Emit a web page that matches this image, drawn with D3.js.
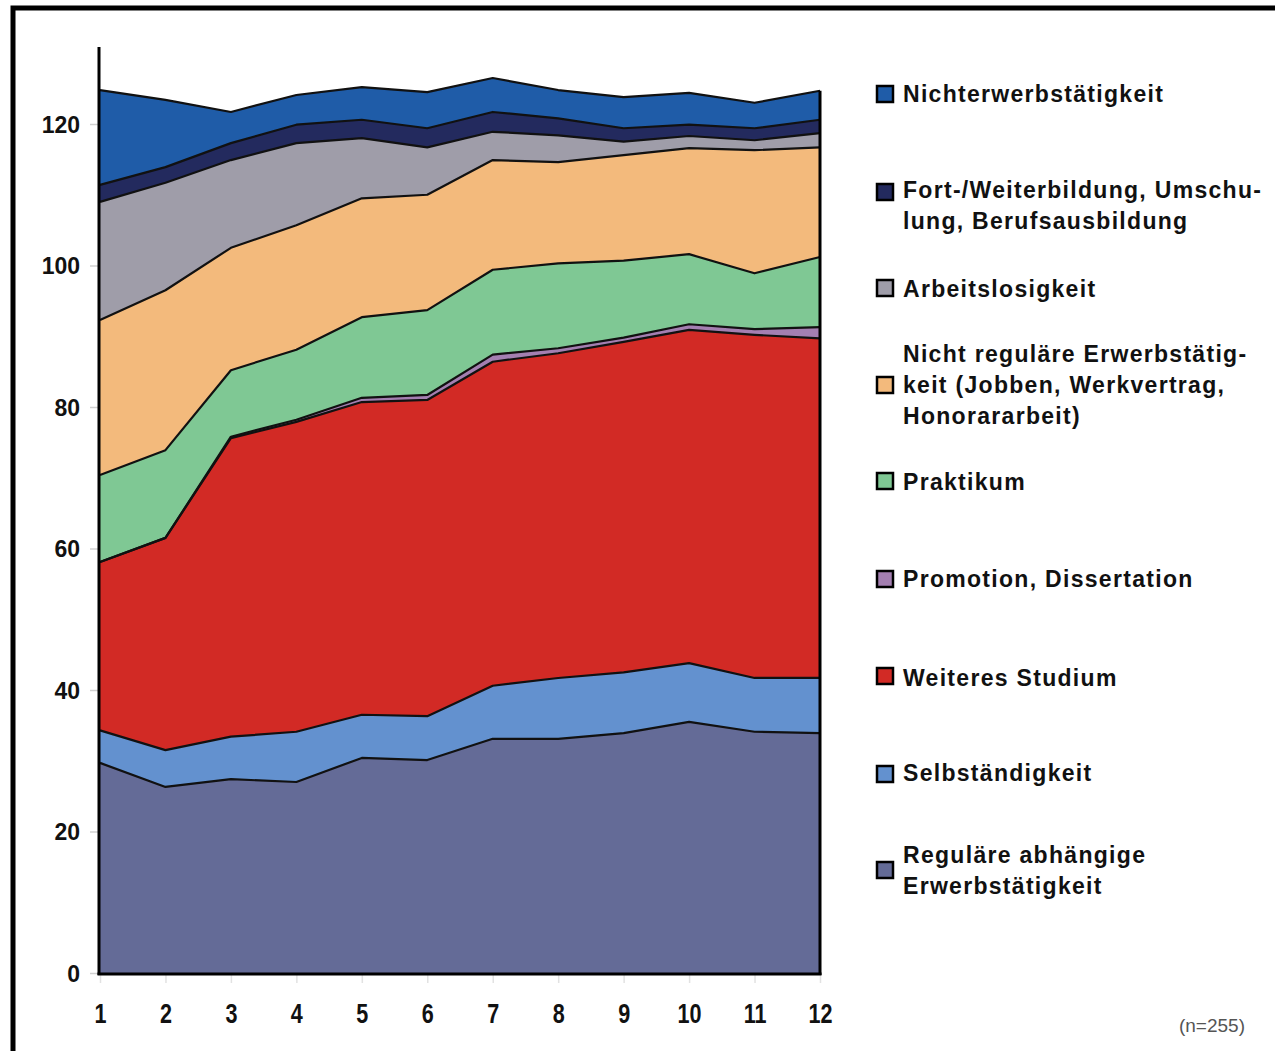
<!DOCTYPE html>
<html>
<head>
<meta charset="utf-8">
<script src="https://cdn.jsdelivr.net/npm/d3@7"></script>
<style>
  html, body { margin: 0; padding: 0; background: #ffffff; }
  svg { display: block; }
</style>
</head>
<body>
<div id="chart"></div>
<script>
// ---- data ----
const periods = [1, 2, 3, 4, 5, 6, 7, 8, 9, 10, 11, 12];
const yTicks = [0, 20, 40, 60, 80, 100, 120];

const regulaer      = [29.7, 26.3, 27.4, 27.0, 30.4, 30.1, 33.1, 33.1, 33.9, 35.5, 34.1, 33.9];
const selbst        = [4.6, 5.2, 6.0, 7.1, 6.1, 6.2, 7.5, 8.6, 8.6, 8.3, 7.6, 7.8];
const studium       = [23.8, 30.0, 42.2, 43.8, 44.2, 44.7, 45.8, 45.9, 46.7, 47.1, 48.5, 48.0];
const promotion     = [0.0, 0.0, 0.2, 0.3, 0.6, 0.7, 1.0, 0.7, 0.6, 0.8, 0.8, 1.6];
const praktikum     = [12.3, 12.4, 9.4, 9.9, 11.4, 12.0, 12.0, 12.0, 10.9, 9.9, 7.9, 9.9];
const nichtRegulaer = [21.9, 22.6, 17.3, 17.6, 16.8, 16.3, 15.5, 14.3, 14.9, 15.0, 17.4, 15.5];
const arbeitslos    = [16.7, 15.2, 12.4, 11.6, 8.5, 6.7, 4.0, 3.8, 1.9, 1.7, 1.4, 2.0];
const fortbildung   = [2.4, 2.2, 2.4, 2.6, 2.6, 2.7, 2.8, 2.4, 1.9, 1.6, 1.7, 1.9];
const nichterwerb   = [13.4, 9.5, 4.4, 4.2, 4.6, 5.1, 4.8, 4.0, 4.4, 4.5, 3.6, 4.1];

// bottom-to-top stacking order
const seriesKeys = ["reg", "selb", "stud", "prom", "prak", "nreg", "arb", "fort", "nerw"];
const seriesValues = [regulaer, selbst, studium, promotion, praktikum, nichtRegulaer, arbeitslos, fortbildung, nichterwerb];
const seriesColors = ["#646b97", "#6391cf", "#d22a25", "#a47fb1", "#7fc894", "#f3ba7c", "#9f9da9", "#232a5e", "#1f5ca8"];

// legend, top-to-bottom
const legendKeys = ["nerw", "fort", "arb", "nreg", "prak", "prom", "stud", "selb", "reg"];
const legendLabels = [
  ["Nichterwerbstätigkeit"],
  ["Fort-/Weiterbildung, Umschu-", "lung, Berufsausbildung"],
  ["Arbeitslosigkeit"],
  ["Nicht reguläre Erwerbstätig-", "keit (Jobben, Werkvertrag,", "Honorararbeit)"],
  ["Praktikum"],
  ["Promotion, Dissertation"],
  ["Weiteres Studium"],
  ["Selbständigkeit"],
  ["Reguläre abhängige", "Erwerbstätigkeit"]
];
const note = "(n=255)";

// ---- build table ----
const table = periods.map((p, i) => {
  const row = { period: p };
  seriesKeys.forEach((k, j) => { row[k] = seriesValues[j][i]; });
  return row;
});
const colorOf = {};
seriesKeys.forEach((k, j) => colorOf[k] = seriesColors[j]);

const W = 1275, H = 1051;
const svg = d3.select("#chart").append("svg").attr("width", W).attr("height", H);

// outer frame
svg.append("rect").attr("x", 13).attr("y", 8).attr("width", W + 20).attr("height", H + 20)
  .attr("fill", "#fff").attr("stroke", "#000").attr("stroke-width", 5);

const x = d3.scaleLinear().domain([1, 12]).range([100, 820]);
const y = d3.scaleLinear().domain([0, 120]).range([973, 124]);

const stack = d3.stack().keys(seriesKeys);
const layers = stack(table);

const area = d3.area()
  .x(d => x(d.data.period))
  .y0(d => y(d[0]))
  .y1(d => y(d[1]));
const topLine = d3.line()
  .x(d => x(d.data.period))
  .y(d => y(d[1]));

const g = svg.append("g");
g.selectAll("path.area").data(layers).join("path")
  .attr("class", "area")
  .attr("d", area)
  .attr("fill", d => colorOf[d.key]);
g.selectAll("path.edge").data(layers).join("path")
  .attr("class", "edge")
  .attr("d", topLine)
  .attr("fill", "none")
  .attr("stroke", "#111")
  .attr("stroke-width", 2.2)
  .attr("stroke-linejoin", "round");

// axes
const yAxis = d3.axisLeft(y).tickValues(yTicks).tickSize(9).tickPadding(10);
const ya = svg.append("g").attr("transform", "translate(99,0)").call(yAxis);
ya.select(".domain").remove();
ya.selectAll(".tick line").attr("stroke", "#d0d0d0").attr("stroke-width", 1.5);
ya.selectAll(".tick text")
  .attr("font-family", "Liberation Sans, Arial, sans-serif")
  .attr("font-weight", "bold")
  .attr("font-size", 23)
  .attr("fill", "#111")
  .attr("dy", "0.36em");

const xAxis = d3.axisBottom(x).tickValues(periods).tickSize(8).tickPadding(21).tickFormat(d3.format("d"));
const xa = svg.append("g").attr("transform", "translate(0,975)").call(xAxis);
xa.select(".domain").remove();
xa.selectAll(".tick line").attr("stroke", "#e2e2e2").attr("stroke-width", 1.5);
xa.selectAll(".tick text")
  .attr("font-family", "Liberation Sans, Arial, sans-serif")
  .attr("font-weight", "bold")
  .attr("font-size", 27)
  .attr("transform", "scale(0.8,1)")
  .attr("fill", "#111");

// plot frame lines: left, bottom, right
svg.append("line").attr("x1", 99).attr("x2", 99).attr("y1", 47).attr("y2", 975)
  .attr("stroke", "#000").attr("stroke-width", 3);
svg.append("line").attr("x1", 97.5).attr("x2", 821.5).attr("y1", 974).attr("y2", 974)
  .attr("stroke", "#000").attr("stroke-width", 3);
svg.append("line").attr("x1", 820).attr("x2", 820).attr("y1", y(d3.sum(seriesValues, s => s[11]))).attr("y2", 975)
  .attr("stroke", "#000").attr("stroke-width", 3);

// legend
const legendTop = [94, 190, 289, 354, 482, 579, 678, 773, 855];
const squareCenter = [94, 192, 288, 385, 481, 579, 676, 774, 870];
const lg = svg.append("g");
legendKeys.forEach((k, i) => {
  lg.append("rect")
    .attr("x", 877).attr("y", squareCenter[i] - 8)
    .attr("width", 16).attr("height", 16)
    .attr("fill", colorOf[k]).attr("stroke", "#000").attr("stroke-width", 2.5);
  const t = lg.append("text")
    .attr("x", 903).attr("y", legendTop[i] + 8)
    .attr("font-family", "Liberation Sans, Arial, sans-serif")
    .attr("font-weight", "bold")
    .attr("font-size", 23)
    .attr("letter-spacing", "1.3px")
    .attr("fill", "#111");
  legendLabels[i].forEach((line, j) => {
    t.append("tspan").attr("x", 903).attr("dy", j === 0 ? 0 : 31).text(line);
  });
});

svg.append("text").attr("x", 1245).attr("y", 1032).attr("text-anchor", "end")
  .attr("font-family", "Liberation Sans, Arial, sans-serif")
  .attr("font-size", 19).attr("fill", "#555").text(note);
</script>
</body>
</html>
